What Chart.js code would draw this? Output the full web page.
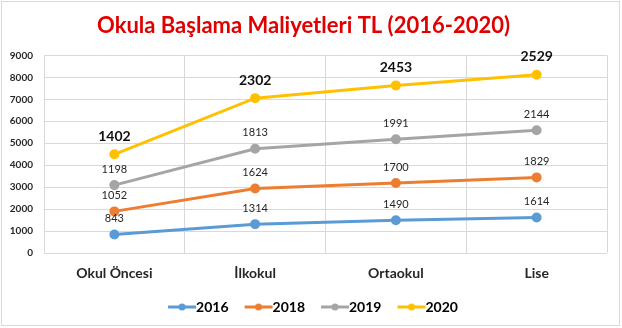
<!DOCTYPE html>
<html><head><meta charset="utf-8">
<script src="https://cdn.jsdelivr.net/npm/chart.js@4/dist/chart.umd.min.js"></script>
<style>html,body{margin:0;padding:0;background:#fff}#wrap{width:622px;height:328px}</style>
</head><body><div id="wrap"><canvas id="c" width="622" height="328"></canvas></div>
<script>
const categories = ['Okul Öncesi', 'İlkokul', 'Ortaokul', 'Lise'];
const v2016 = [843, 1314, 1490, 1614];
const v2018 = [1052, 1624, 1700, 1829];
const v2019 = [1198, 1813, 1991, 2144];
const v2020 = [1402, 2302, 2453, 2529];
const seriesNames = ['2016', '2018', '2019', '2020'];
const colors = ['#5B9BD5', '#ED7D31', '#A5A5A5', '#FFC000'];
const titleText = 'Okula Başlama Maliyetleri TL (2016-2020)';

function legendIcon(color) {
  const c = document.createElement('canvas');
  c.width = 56; c.height = 10;
  const x = c.getContext('2d');
  x.strokeStyle = color; x.lineWidth = 3;
  x.beginPath(); x.moveTo(18, 5); x.lineTo(46, 5); x.stroke();
  x.fillStyle = color; x.beginPath(); x.arc(32, 5, 3.5, 0, Math.PI * 2); x.fill();
  return c;
}

const allSeries = [v2016, v2018, v2019, v2020];
const datasets = allSeries.map((d, i) => ({
  label: seriesNames[i], data: d,
  borderColor: colors[i], backgroundColor: colors[i],
  borderWidth: 3, pointRadius: 3.5, pointHoverRadius: 3.5,
  pointStyle: 'circle', fill: false, tension: 0,
  icon: legendIcon(colors[i])
}));

const bgPlugin = {
  id: 'bg',
  afterLayout(chart) {
    if (chart.legend) { chart.legend.left += 9; chart.legend.right += 9; }
  },
  beforeDraw(chart) {
    const ctx = chart.ctx;
    ctx.save();
    ctx.fillStyle = '#fff'; ctx.fillRect(0, 0, chart.width, chart.height);
    ctx.strokeStyle = '#d9d9d9'; ctx.lineWidth = 1;
    ctx.strokeRect(1.5, 1.5, chart.width - 4, chart.height - 4);
    ctx.restore();
  }
};
const labelPlugin = {
  id: 'vals',
  afterDatasetsDraw(chart) {
    const ctx = chart.ctx;
    ctx.save();
    ctx.textAlign = 'center'; ctx.textBaseline = 'middle';
    chart.data.datasets.forEach((ds, di) => {
      const meta = chart.getDatasetMeta(di);
      const big = di === 3;
      ctx.font = big ? 'bold 14px Lato' : '11px Lato';
      ctx.fillStyle = big ? '#111' : '#262626';
      meta.data.forEach((pt, i) => {
        ctx.fillText(String(ds.data[i]), pt.x, pt.y - (big ? 18 : 16));
      });
    });
    ctx.restore();
  }
};

Chart.defaults.font.family = 'Lato';
new Chart(document.getElementById('c'), {
  type: 'line',
  data: { labels: categories, datasets },
  plugins: [bgPlugin, labelPlugin],
  options: {
    responsive: false, animation: false,
    layout: { padding: { left: 0, right: 15, top: 2, bottom: 4 } },
    plugins: {
      title: { display: true, text: titleText, color: '#e00000',
        font: { size: 22, weight: 'bold' }, padding: { top: 11, bottom: 16 } },
      legend: { position: 'bottom',
        labels: { usePointStyle: true, pointStyleWidth: 22, padding: 15,
          color: '#262626', font: { size: 14, weight: 'bold' },
          generateLabels(chart) {
            return chart.data.datasets.map((ds, i) => ({
              text: ds.label, pointStyle: ds.icon, fillStyle: ds.borderColor,
              strokeStyle: ds.borderColor, lineWidth: 0, datasetIndex: i, hidden: false
            }));
          } } },
      tooltip: { enabled: false }
    },
    scales: {
      x: { offset: true,
        grid: { offset: true, color: '#d9d9d9', drawTicks: false },
        border: { display: false },
        ticks: { padding: 12, color: '#262626', font: { size: 14, weight: 'bold' } },
        afterFit(s) { s.height = 32; } },
      y: { stacked: true, min: 0, max: 9000,
        grid: { color: '#d9d9d9', drawTicks: false },
        border: { display: false },
        ticks: { stepSize: 1000, padding: 11, color: '#262626', font: { size: 10, weight: 'bold' },
          callback: v => String(v) },
        afterFit(s) { s.width = 44; } }
    }
  }
});
</script></body></html>
